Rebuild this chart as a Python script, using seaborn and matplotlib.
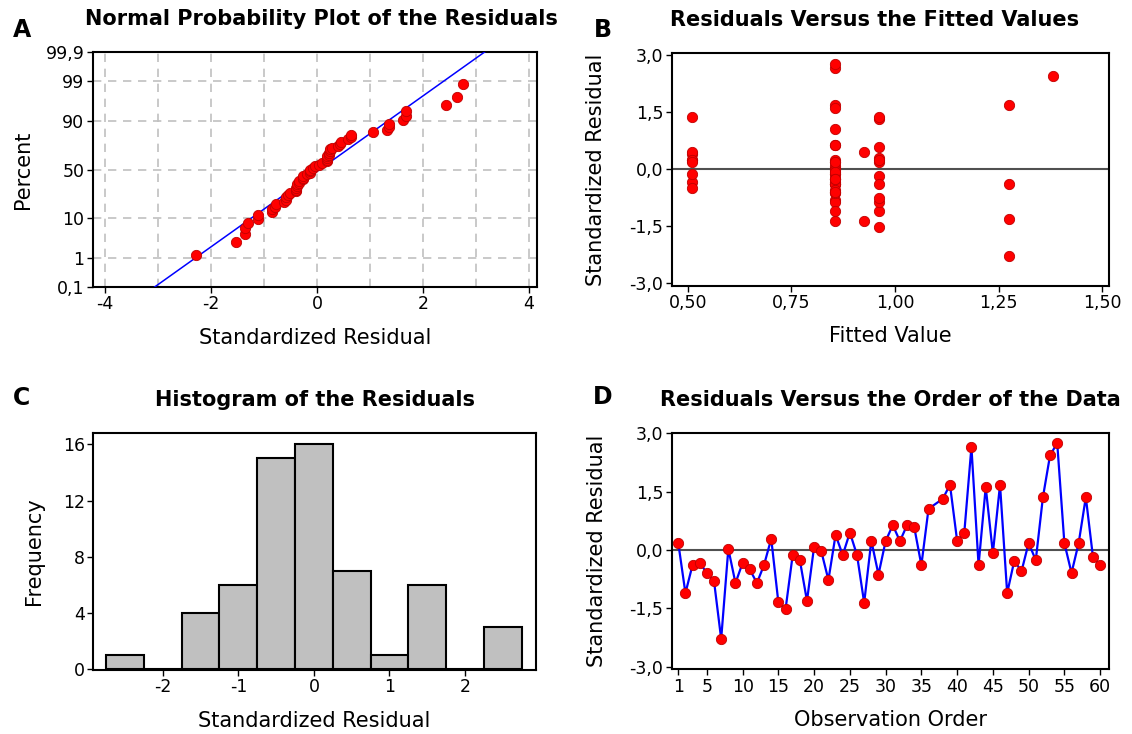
import numpy as np
import pandas as pd
import matplotlib
matplotlib.use("Agg")
import matplotlib.pyplot as plt
import seaborn as sns
from statistics import NormalDist
from matplotlib.ticker import FixedLocator
from matplotlib.transforms import Bbox, TransformedBbox

# ---------------- data ----------------
obs_order = [1, 2, 3, 4, 5, 6, 7, 8, 9, 10, 11, 12, 13, 14, 15, 16, 17, 18, 19, 20,
             21, 22, 23, 24, 25, 26, 27, 28, 29, 30, 31, 32, 33, 34, 35, 36, 38, 39, 40,
             41, 42, 43, 44, 45, 46, 47, 48, 49, 50, 51, 52, 53, 54, 55, 56, 57, 58, 59, 60]
std_resid = [0.18, -1.11, -0.38, -0.33, -0.59, -0.80, -2.29, 0.03, -0.85, -0.33,
             -0.50, -0.85, -0.38, 0.29, -1.35, -1.53, -0.13, -0.26, -1.31, 0.09,
             -0.03, -0.77, 0.39, -0.13, 0.45, -0.13, -1.36, 0.24, -0.63, 0.23,
             0.64, 0.23, 0.64, 0.59, -0.39, 1.06, 1.32, 1.68, 0.24,
             0.44, 2.65, -0.39, 1.62, -0.08, 1.68, -1.11, -0.27, -0.55, 0.18,
             -0.26, 1.36, 2.44, 2.75, 0.18, -0.59, 0.18, 1.36, -0.18, -0.39]
fitted_value = [0.96, 0.96, 0.855, 0.51, 0.855, 0.855, 1.275, 0.855, 0.96, 0.855,
                0.51, 0.855, 0.855, 0.96, 0.926, 0.96, 0.51, 0.855, 1.275, 0.855,
                0.855, 0.96, 0.51, 0.855, 0.51, 0.855, 0.855, 0.51, 0.855, 0.96,
                0.855, 0.51, 0.855, 0.96, 0.855, 0.855, 0.96, 0.855, 0.855,
                0.926, 0.855, 1.275, 0.855, 0.855, 1.275, 0.855, 0.855, 0.855, 0.51,
                0.855, 0.96, 1.38, 0.855, 0.855, 0.855, 0.855, 0.51, 0.96, 0.96]

hist_edges = [-2.75, -2.25, -1.75, -1.25, -0.75, -0.25, 0.25, 0.75, 1.25, 1.75, 2.25, 2.75]

pct_ticks = [0.1, 1, 10, 50, 90, 99, 99.9]
pct_labels = ["0,1", "1", "10", "50", "90", "99", "99,9"]
resid_ticks = [-3.0, -1.5, 0.0, 1.5, 3.0]
resid_labels = ["-3,0", "-1,5", "0,0", "1,5", "3,0"]
fit_ticks = [0.50, 0.75, 1.00, 1.25, 1.50]
fit_labels = ["0,50", "0,75", "1,00", "1,25", "1,50"]
order_ticks = [1, 5, 10, 15, 20, 25, 30, 35, 40, 45, 50, 55, 60]
freq_ticks = [0, 4, 8, 12, 16]

df = pd.DataFrame({"order": obs_order, "resid": std_resid, "fit": fitted_value})

# ---------------- style ----------------
sns.set_theme(style="white")
plt.rcParams["font.family"] = ["DejaVu Sans"]
plt.rcParams["axes.linewidth"] = 1.5
plt.rcParams["axes.edgecolor"] = "black"
plt.rcParams["text.color"] = "black"
plt.rcParams["axes.labelcolor"] = "black"
plt.rcParams["axes.titlecolor"] = "black"
plt.rcParams["xtick.color"] = "black"
plt.rcParams["ytick.color"] = "black"

W, H = 1132, 734
fig = plt.figure(figsize=(W / 100, H / 100), dpi=100)

def add_ax(left, top, right, bottom):
    return fig.add_axes([left / W, 1 - bottom / H, (right - left) / W, (bottom - top) / H])

axA = add_ax(92.7, 51.7, 537, 287)
axB = add_ax(671.7, 52.7, 1109, 286)
axC = add_ax(93.3, 432.7, 536, 670)
axD = add_ax(671.7, 432.7, 1108.7, 669.3)

TITLE_FS = 15
LABEL_FS = 15
TICK_FS = 12.5
MRED = "#ff0000"
MEDGE = "#c00000"

def style_ax(ax):
    for s in ax.spines.values():
        s.set_visible(True)
        s.set_color("black")
        s.set_linewidth(1.5)
    ax.tick_params(axis="both", which="major", direction="out", length=4, width=1,
                   color="black", labelsize=TICK_FS, labelcolor="black", pad=2,
                   bottom=True, left=True, top=False, right=False)

def set_labels(ax, title, xlabel, ylabel, ylab_x, title_dx=0.0):
    ax.set_title(title, fontsize=TITLE_FS, fontweight="bold", pad=19, x=0.5 + title_dx,
                 color="black")
    ax.set_xlabel(xlabel, fontsize=LABEL_FS, color="black")
    ax.set_ylabel(ylabel, fontsize=LABEL_FS, color="black")
    ax.xaxis.set_label_coords(0.5, -0.215)
    ax.xaxis.label.set_verticalalignment("center")
    ax.yaxis.set_label_coords(ylab_x, 0.5)
    ax.yaxis.label.set_verticalalignment("center")

# ---------------- A: normal probability plot ----------------
nd = NormalDist()
res_sorted = np.sort(np.array(std_resid))
n = len(res_sorted)
z_pts = np.array([nd.inv_cdf((i - 0.3) / (n + 0.4)) for i in range(1, n + 1)])
mu = float(np.mean(std_resid))
sd = float(np.std(std_resid, ddof=1))
line_x = np.array([mu - 3.6 * sd, mu + 3.6 * sd])
line_z = (line_x - mu) / sd

zt = [nd.inv_cdf(p / 100) for p in pct_ticks]
axA.set_xlim(-4.23, 4.15)
axA.set_ylim(zt[0] - 0.01, zt[-1] + 0.02)
axA.xaxis.set_major_locator(FixedLocator([-4, -2, 0, 2, 4]))
axA.xaxis.set_minor_locator(FixedLocator([-3, -1, 1, 3]))
axA.set_xticklabels(["-4", "-2", "0", "2", "4"])
axA.set_yticks(zt)
axA.set_yticklabels(pct_labels)
axA.grid(True, which="both", axis="x", color="#c0c0c0", linestyle=(0, (5, 4)), linewidth=1.2)
axA.grid(True, which="major", axis="y", color="#c0c0c0", linestyle=(0, (5, 4)), linewidth=1.2)
axA.set_axisbelow(True)
sns.lineplot(x=line_x, y=line_z, ax=axA, color="#0000ff", linewidth=1.1, zorder=3)
sns.scatterplot(x=res_sorted, y=z_pts, ax=axA, color=MRED, edgecolor=MEDGE,
                linewidth=0.6, s=55, zorder=4)
style_ax(axA)
axA.tick_params(axis="x", which="minor", length=0)
set_labels(axA, "Normal Probability Plot of the Residuals", "Standardized Residual",
           "Percent", -0.158, title_dx=0.015)
clip = TransformedBbox(Bbox.from_extents(44 / W, 0, 1, 1), fig.transFigure)
for lab in axA.get_yticklabels():
    if lab.get_text() == "99,9":
        lab.set_clip_box(clip)
        lab.set_clip_on(True)

# ---------------- B: residuals vs fitted ----------------
axB.axhline(0, color="#505050", linewidth=1.5, zorder=1)
sns.scatterplot(data=df, x="fit", y="resid", ax=axB, color=MRED, edgecolor=MEDGE,
                linewidth=0.6, s=55, zorder=3)
axB.set_xlim(0.461, 1.516)
axB.set_ylim(-3.07, 3.06)
axB.set_xticks(fit_ticks)
axB.set_xticklabels(fit_labels)
axB.set_yticks(resid_ticks)
axB.set_yticklabels(resid_labels)
style_ax(axB)
set_labels(axB, "Residuals Versus the Fitted Values", "Fitted Value",
           "Standardized Residual", -0.172, title_dx=-0.035)

# ---------------- C: histogram ----------------
sns.histplot(x=std_resid, bins=hist_edges, ax=axC, color="#c0c0c0", alpha=1.0,
             edgecolor="black", linewidth=1.5)
axC.set_xlim(-2.92, 2.94)
axC.set_ylim(-0.05, 16.83)
axC.set_xticks([-2, -1, 0, 1, 2])
axC.set_xticklabels(["-2", "-1", "0", "1", "2"])
axC.set_yticks(freq_ticks)
axC.set_yticklabels([str(v) for v in freq_ticks])
style_ax(axC)
set_labels(axC, "Histogram of the Residuals", "Standardized Residual",
           "Frequency", -0.135)

# ---------------- D: residuals vs order ----------------
axD.axhline(0, color="#505050", linewidth=1.5, zorder=1)
sns.lineplot(data=df, x="order", y="resid", ax=axD, sort=False, color="#0000ff",
             linewidth=1.6, zorder=2)
sns.scatterplot(data=df, x="order", y="resid", ax=axD, color=MRED, edgecolor=MEDGE,
                linewidth=0.6, s=55, zorder=3)
axD.set_xlim(0.08, 61.2)
axD.set_ylim(-3.07, 3.02)
axD.set_xticks(order_ticks)
axD.set_xticklabels([str(v) for v in order_ticks])
axD.set_yticks(resid_ticks)
axD.set_yticklabels(resid_labels)
style_ax(axD)
set_labels(axD, "Residuals Versus the Order of the Data", "Observation Order",
           "Standardized Residual", -0.172)

# panel letters
for letter, (px, py) in {"A": (22, 30), "B": (603, 30), "C": (22, 398), "D": (603, 397)}.items():
    fig.text(px / W, 1 - py / H, letter, fontsize=17, fontweight="bold",
             ha="center", va="center", color="black")

fig.savefig("out.png", dpi=100, facecolor="white")
